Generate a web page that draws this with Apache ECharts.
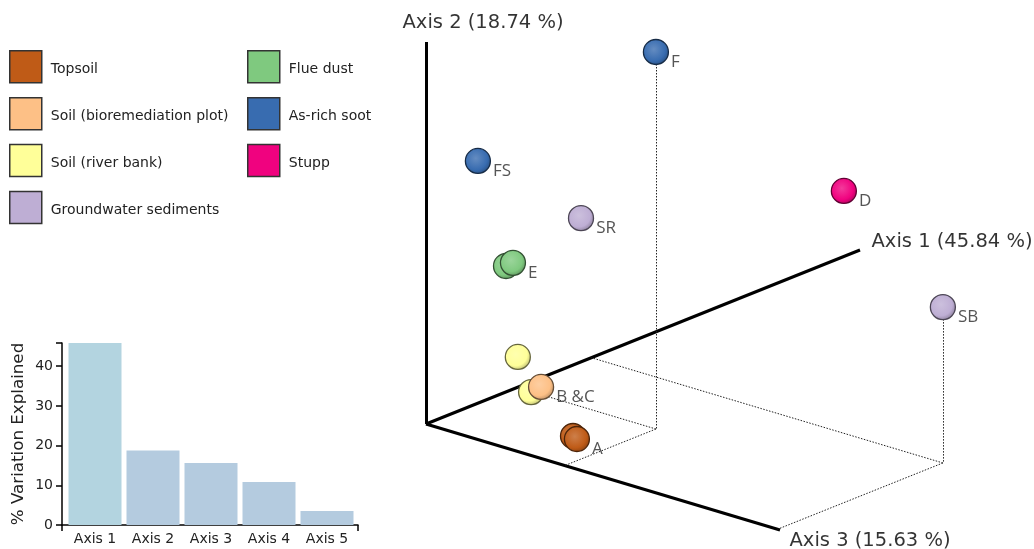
<!DOCTYPE html>
<html><head><meta charset="utf-8">
<script src="https://cdn.jsdelivr.net/npm/echarts@6/dist/echarts.min.js"></script>
<style>html,body{margin:0;padding:0;background:#fff}#c{width:1034px;height:549px}</style>
</head><body><div id="c"></div>
<script>
// ---------- data ----------
const groupNames = ['Topsoil', 'Soil (bioremediation plot)', 'Soil (river bank)', 'Groundwater sediments', 'Flue dust', 'As-rich soot', 'Stupp'];
const groupColors = ['#bf5b17', '#fdc086', '#ffff99', '#beaed4', '#7fc97f', '#386cb0', '#f0027f'];
const sampleIds    = ['F', 'FS', 'SR', 'E1', 'E2', 'D', 'SB', 'Y1', 'Y2', 'BC', 'A1', 'A2'];
const sampleLabels = ['F', 'FS', 'SR', '', 'E', 'D', 'SB', '', '', 'B &C', '', 'A'];
const sampleGroup  = [5, 5, 3, 4, 4, 6, 3, 2, 2, 1, 0, 0];
// PCoA coordinates (fraction of each plotted axis length)
const pc1 = [0.210, 0.038, 0.194, 0.062, 0.078, 0.555, 0.381, 0.130, 0.079, 0.102, 0.094, 0.103];
const pc2 = [0.987, 0.699, 0.506, 0.427, 0.428, 0.496, 0.408, 0.144, 0.103, 0.106, 0.009, -0.003];
const pc3 = [0.392, 0.100, 0.200, 0.150, 0.150, 0.500, 0.993, 0.100, 0.200, 0.200, 0.300, 0.300];
const dropSamples = ['F', 'SB'];
const axisTitles = ['Axis 1 (45.84 %)', 'Axis 2 (18.74 %)', 'Axis 3 (15.63 %)'];
const screeLabels = ['Axis 1', 'Axis 2', 'Axis 3', 'Axis 4', 'Axis 5'];
const screeValues = [45.84, 18.74, 15.63, 10.83, 3.53];

// ---------- view (layout) ----------
const VIEW = {o: [426, 424], u1: [434, -174], u2: [0, -382], u3: [354, 106]};
function proj(a1, a2, a3) {
  return [VIEW.o[0] + a1 * VIEW.u1[0] + a2 * VIEW.u2[0] + a3 * VIEW.u3[0],
          VIEW.o[1] + a1 * VIEW.u1[1] + a2 * VIEW.u2[1] + a3 * VIEW.u3[1]];
}
function hex(c){return [parseInt(c.slice(1,3),16),parseInt(c.slice(3,5),16),parseInt(c.slice(5,7),16)];}
function mix(c, t, f){const a=hex(c), b=hex(t);return 'rgb('+a.map((v,i)=>Math.round(v+(b[i]-v)*f)).join(',')+')';}
function ball(c){
  return {type:'radial', x:0.42, y:0.4, r:0.62, colorStops:[
    {offset:0, color:mix(c,'#ffffff',0.22)},
    {offset:0.7, color:c},
    {offset:1, color:mix(c,'#000000',0.25)}]};
}

const FONT = 'DejaVu Sans';
const series = [];

// 3D axes
const axisEnds = [proj(1,0,0), proj(0,1,0), proj(0,0,1)];
series.push({
  type:'lines', coordinateSystem:'cartesian2d', xAxisIndex:0, yAxisIndex:0, silent:true, z:1,
  lineStyle:{color:'#000', width:3, opacity:1},
  data: axisEnds.map(e => ({coords:[proj(0,0,0), e]}))
});
// drop lines
const drops = [];
dropSamples.forEach(id => {
  const i = sampleIds.indexOf(id);
  const top = proj(pc1[i], pc2[i], pc3[i]);
  const floor = proj(pc1[i], 0, pc3[i]);
  drops.push({coords:[top, floor]});
  drops.push({coords:[floor, proj(pc1[i], 0, 0)]});
  drops.push({coords:[floor, proj(0, 0, pc3[i])]});
});
series.push({
  type:'lines', coordinateSystem:'cartesian2d', xAxisIndex:0, yAxisIndex:0, silent:true, z:1,
  lineStyle:{color:'#222', width:1, type:[1.5,1.5], opacity:1},
  data: drops
});
// axis titles
const labelPos = [[12,-8],[-23,-19],[10,11]];
series.push({
  type:'scatter', xAxisIndex:0, yAxisIndex:0, silent:true, symbolSize:1, z:2,
  itemStyle:{color:'rgba(0,0,0,0)'},
  data: axisEnds.map((e,k) => ({value:e, label:{show:true, formatter:axisTitles[k], position:labelPos[k],
        align:'left', verticalAlign:'middle', fontFamily:FONT, fontSize:19.5, color:'#000'}}))
});
// samples, one series per group
const drawOrder = [3, 4, 5, 6, 2, 1, 0];
drawOrder.forEach(g => {
  const data = [];
  sampleIds.forEach((id, i) => {
    if (sampleGroup[i] !== g) return;
    data.push({value: proj(pc1[i], pc2[i], pc3[i]),
      label:{show: sampleLabels[i] !== '', formatter: sampleLabels[i]}});
  });
  series.push({
    name: groupNames[g], type:'scatter', xAxisIndex:0, yAxisIndex:0, z:5,
    symbol:'circle', symbolSize:25,
    itemStyle:{color: ball(groupColors[g]), borderColor: mix(groupColors[g],'#000000',0.6), borderWidth:1.3, opacity:1},
    label:{position:'right', distance:2, offset:[0,10], fontFamily:'Open Sans', fontSize:17, color:'#555'},
    data
  });
});
// scree
series.push({
  type:'bar', xAxisIndex:1, yAxisIndex:1, barWidth:53, silent:true,
  data: screeValues.map((v,i) => ({value:v, itemStyle:{color: i === 0 ? '#b3d4e0' : '#b4cbdf'}}))
});
series.push({type:'scatter', xAxisIndex:2, yAxisIndex:2, data:[]});

const legendItem = (n) => ({name:n, itemStyle:{color:groupColors[groupNames.indexOf(n)], borderColor:'#333', borderWidth:1.5}});
const legendBase = {orient:'vertical', top:45, itemWidth:32, itemHeight:32, itemGap:13.4, selectedMode:false, icon:'rect',
  formatter: n => '{t|' + n + '}',
  textStyle:{fontFamily:FONT, fontSize:14, color:'#222', padding:[0,0,0,4],
    rich:{t:{fontFamily:FONT, fontSize:14, color:'#222', padding:[6,0,0,0]}}}};

const option = {
  animation:false,
  backgroundColor:'#fff',
  legend: [
    Object.assign({left:4, data: groupNames.slice(0,4).map(legendItem)}, legendBase),
    Object.assign({left:242, data: groupNames.slice(4).map(legendItem)}, legendBase)
  ],
  grid: [
    {left:0, top:0, width:1034, height:549},
    {left:66, width:290, top:343, bottom:24},
    {left:62, width:296, top:343, bottom:24}
  ],
  xAxis: [
    {gridIndex:0, type:'value', min:0, max:1034, show:false},
    {gridIndex:1, type:'category', data:screeLabels, axisLine:{show:false},
     axisTick:{alignWithLabel:true, length:6, lineStyle:{color:'#000', width:1.5}},
     axisLabel:{fontFamily:FONT, fontSize:14, color:'#222', margin:7}},
    {gridIndex:2, type:'value', min:0, max:1, interval:1, axisLine:{lineStyle:{color:'#000', width:1.5}},
     axisTick:{length:6, lineStyle:{color:'#000', width:1.5}}, axisLabel:{show:false}, splitLine:{show:false}}
  ],
  yAxis: [
    {gridIndex:0, type:'value', min:0, max:549, inverse:true, show:false},
    {gridIndex:1, type:'value', min:0, max:45.84, interval:10, offset:4,
     name:'% Variation Explained', nameLocation:'middle', nameGap:35,
     nameTextStyle:{fontFamily:FONT, fontSize:16.7, color:'#222'},
     axisLine:{show:true, lineStyle:{color:'#000', width:1.5}},
     axisTick:{show:true, length:6, lineStyle:{color:'#000', width:1.5}},
     axisLabel:{fontFamily:FONT, fontSize:14, color:'#222', margin:9,
       formatter: v => (Math.abs(v % 10) < 1e-6 ? String(v) : '')},
     splitLine:{show:false}},
    {gridIndex:2, type:'value', min:0, max:1, show:false}
  ],
  series
};
const chart = echarts.init(document.getElementById('c'), null, {renderer:'canvas'});
chart.setOption(option);
</script></body></html>
